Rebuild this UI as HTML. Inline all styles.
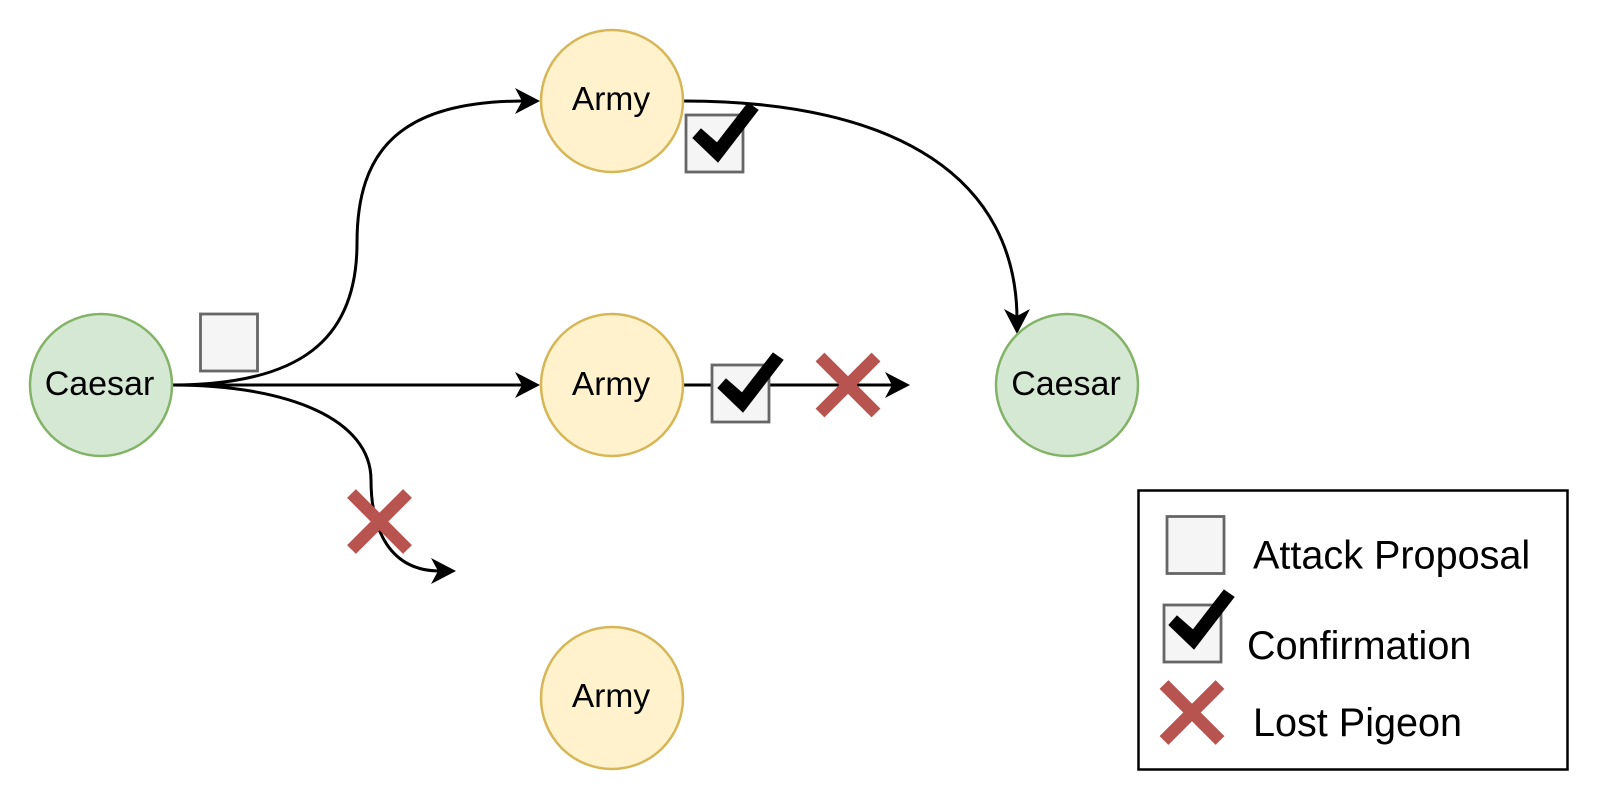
<!DOCTYPE html>
<html><head><meta charset="utf-8"><style>html,body{margin:0;padding:0;background:#fff;width:1600px;height:802px;overflow:hidden}svg{display:block}text{font-family:"Liberation Sans",Arial,sans-serif;fill:#000}</style></head><body>
<svg width="1600" height="802" viewBox="0 0 1600 802">
<defs>
<polygon id="mark" points="15,14 31,28 62,-12 72,-5 32,47 7,23" fill="#000" stroke="#000" stroke-width="1"/>
<rect id="box" x="0" y="0" width="57" height="57" fill="#f5f5f5" stroke="#666" stroke-width="2.8"/>
<path id="x" d="M-28,-28L28,28M-28,28L28,-28" stroke="#b85450" stroke-width="12.5" fill="none"/>
</defs>
<g fill="none" stroke="#000" stroke-width="3">
<path d="M172 385C300 385 357 340 357 243C357 150 400 101 525 101"/>
<path d="M172 385H525"/>
<path d="M172 385C290 385 371 420 371 480C371 530 390 571 440 571"/>
<path d="M684 101C900 101 1017 180 1017 320"/>
<path d="M684 385H895"/>
</g>
<polygon points="540,101 515,88 522,101 515,114" fill="#000"/>
<polygon points="540,385 515,372 522,385 515,398" fill="#000"/>
<polygon points="456,571 431,558 438,571 431,584" fill="#000"/>
<polygon points="910,385 885,372 892,385 885,398" fill="#000"/>
<polygon points="1017,334 1004,309 1017,316 1030,309" fill="#000"/>
<g stroke-width="2.5">
<circle cx="101" cy="385" r="71" fill="#d5e8d4" stroke="#82b366"/>
<circle cx="1067" cy="385" r="71" fill="#d5e8d4" stroke="#82b366"/>
<circle cx="612" cy="101" r="71" fill="#fff2cc" stroke="#d6b656"/>
<circle cx="612" cy="385" r="71" fill="#fff2cc" stroke="#d6b656"/>
<circle cx="612" cy="698" r="71" fill="#fff2cc" stroke="#d6b656"/>
</g>
<g font-size="34" text-anchor="middle">
<text x="99.500" y="395">Caesar</text>
<text x="1066" y="395">Caesar</text>
</g>
<g font-size="33.5" text-anchor="middle">
<text x="611" y="110">Army</text>
<text x="611" y="395">Army</text>
<text x="611" y="707">Army</text>
</g>
<use href="#box" x="200.500" y="314"/>
<use href="#box" x="686" y="115"/>
<use href="#mark" x="686" y="115"/>
<use href="#box" x="712" y="365"/>
<use href="#mark" x="711" y="365"/>
<use href="#x" x="848" y="385"/>
<use href="#x" x="379.500" y="521.500"/>
<rect x="1138.500" y="490.500" width="429" height="279" fill="none" stroke="#000" stroke-width="2.500"/>
<use href="#box" x="1167" y="516.500"/>
<use href="#box" x="1164" y="605"/>
<use href="#mark" x="1162" y="602"/>
<use href="#x" x="1192" y="712.500"/>
<g font-size="39.600">
<text x="1253" y="568.500">Attack Proposal</text>
<text x="1247" y="659">Confirmation</text>
<text x="1253" y="736">Lost Pigeon</text>
</g>
</svg>
</body></html>
